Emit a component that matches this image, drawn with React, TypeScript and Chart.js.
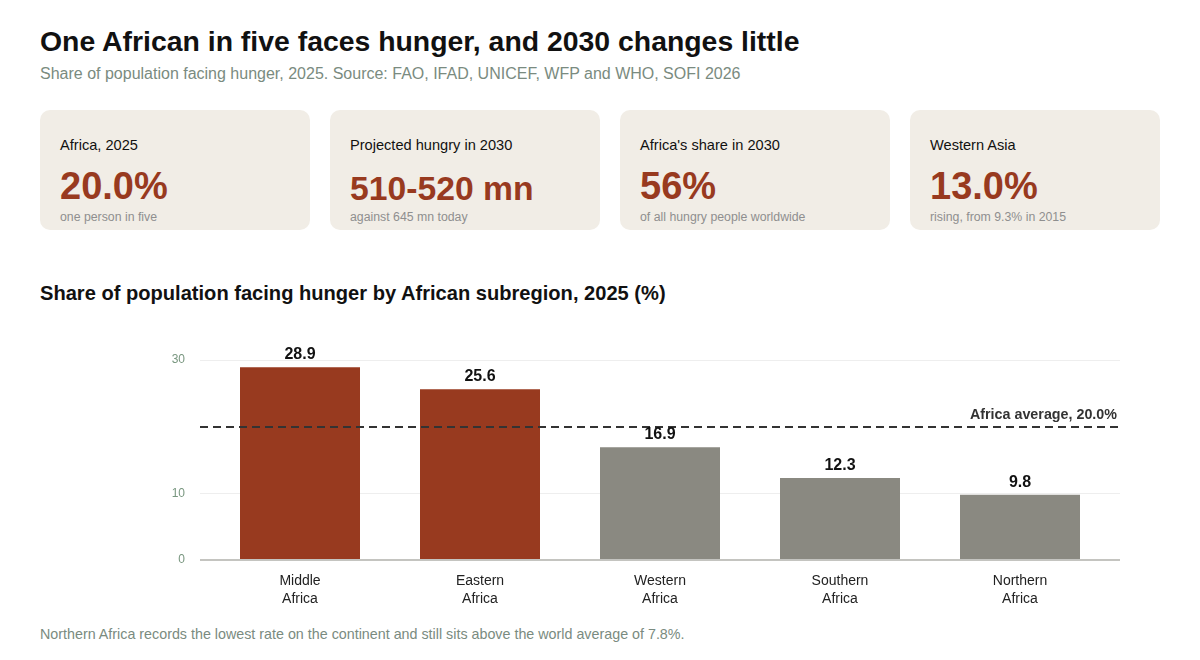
import React, { useEffect, useRef } from "react";
import { Chart, registerables } from "chart.js";

Chart.register(...registerables);

const categories: string[][] = [
  ["Middle", "Africa"],
  ["Eastern", "Africa"],
  ["Western", "Africa"],
  ["Southern", "Africa"],
  ["Northern", "Africa"],
];
const values: number[] = [28.9, 25.6, 16.9, 12.3, 9.8];
const highlighted: boolean[] = [true, true, false, false, false];
const yTicks: number[] = [0, 10, 30];
const africaAverage = 20.0;

const kpiLabels = ["Africa, 2025", "Projected hungry in 2030", "Africa's share in 2030", "Western Asia"];
const kpiValues = ["20.0%", "510-520 mn", "56%", "13.0%"];
const kpiNotes = ["one person in five", "against 645 mn today", "of all hungry people worldwide", "rising, from 9.3% in 2015"];

const RED = "#983a1f";
const GREY = "#8a8981";
const FONT = "'Liberation Sans', Arial, Helvetica, sans-serif";

const overlayPlugin = {
  id: "overlay",
  beforeDatasetsDraw(chart: any) {
    const { ctx, chartArea, scales } = chart;
    const y = scales.y;
    const l = chartArea.left - 10;
    const r = chartArea.right + 10;
    ctx.save();
    yTicks.forEach((v) => {
      if (v === 0) return;
      const py = Math.round(y.getPixelForValue(v)) + 0.5;
      ctx.strokeStyle = "#eeeeee";
      ctx.lineWidth = 1;
      ctx.beginPath();
      ctx.moveTo(l, py);
      ctx.lineTo(r, py);
      ctx.stroke();
    });
    ctx.restore();
  },
  afterDatasetsDraw(chart: any) {
    const { ctx, chartArea, scales } = chart;
    const y = scales.y;
    const l = chartArea.left - 10;
    const r = chartArea.right + 10;
    ctx.save();
    // baseline
    const by = y.getPixelForValue(0);
    ctx.strokeStyle = "#c4c4c0";
    ctx.lineWidth = 2;
    ctx.beginPath();
    ctx.moveTo(l, by);
    ctx.lineTo(r, by);
    ctx.stroke();
    // average line
    const ay = Math.round(y.getPixelForValue(africaAverage));
    ctx.strokeStyle = "#333333";
    ctx.lineWidth = 2;
    ctx.setLineDash([8, 5]);
    ctx.beginPath();
    ctx.moveTo(l, ay);
    ctx.lineTo(r, ay);
    ctx.stroke();
    ctx.setLineDash([]);
    ctx.fillStyle = "#333333";
    ctx.font = `bold 14.3px ${FONT}`;
    ctx.textAlign = "right";
    ctx.textBaseline = "alphabetic";
    ctx.fillText(`Africa average, ${africaAverage.toFixed(1)}%`, r - 3, ay - 8);
    // value labels
    const meta = chart.getDatasetMeta(0);
    ctx.fillStyle = "#111111";
    ctx.font = `bold 16px ${FONT}`;
    ctx.textAlign = "center";
    meta.data.forEach((bar: any, i: number) => {
      ctx.fillText(values[i].toFixed(1), bar.x, bar.y - 8);
    });
    ctx.restore();
  },
};

function BarChart() {
  const ref = useRef<HTMLCanvasElement | null>(null);
  useEffect(() => {
    if (!ref.current) return;
    const chart = new Chart(ref.current, {
      type: "bar",
      data: {
        labels: categories,
        datasets: [
          {
            data: values,
            backgroundColor: highlighted.map((h) => (h ? RED : GREY)),
            categoryPercentage: 1,
            barPercentage: 120 / 180,
          },
        ],
      },
      options: {
        responsive: false,
        animation: false,
        devicePixelRatio: 1,
        layout: { padding: { left: 0, right: 90, top: 40, bottom: 0 } },
        plugins: { legend: { display: false }, tooltip: { enabled: false } },
        scales: {
          x: {
            grid: { display: false, drawTicks: false },
            border: { display: false },
            ticks: {
              color: "#222222",
              font: { family: FONT, size: 14, lineHeight: 1.3 },
              padding: 12,
              maxRotation: 0,
              autoSkip: false,
            },
            afterFit: (s: any) => {
              s.height = 60;
            },
          },
          y: {
            min: 0,
            max: 30,
            grid: { display: false, drawTicks: false },
            border: { display: false },
            ticks: {
              color: "#78967f",
              font: { family: FONT, size: 12 },
              padding: 25,
            },
            afterBuildTicks: (s: any) => {
              s.ticks = yTicks.map((v) => ({ value: v }));
            },
            afterFit: (s: any) => {
              s.width = 210;
            },
          },
        },
      },
      plugins: [overlayPlugin],
    });
    return () => chart.destroy();
  }, []);
  return (
    <canvas
      ref={ref}
      width={1200}
      height={300}
      style={{ position: "absolute", left: 0, top: 320, width: 1200, height: 300 }}
    />
  );
}

export default function App() {
  const cardLefts = [40, 330, 620, 910];
  const cardWidths = [270, 270, 270, 250];
  const valueSizes = [38, 33.7, 38, 38];
  return (
    <div
      style={{
        position: "absolute",
        left: 0,
        top: 0,
        width: 1200,
        height: 660,
        background: "#ffffff",
        fontFamily: FONT,
        overflow: "hidden",
      }}
    >
      <div style={{ position: "absolute", left: 40, top: 25, fontSize: 28.4, fontWeight: "bold", color: "#111", whiteSpace: "nowrap" }}>
        One African in five faces hunger, and 2030 changes little
      </div>
      <div style={{ position: "absolute", left: 40, top: 65, fontSize: 16, color: "#7a8b80", whiteSpace: "nowrap" }}>
        Share of population facing hunger, 2025. Source: FAO, IFAD, UNICEF, WFP and WHO, SOFI 2026
      </div>
      {kpiLabels.map((lab, i) => (
        <div
          key={i}
          style={{
            position: "absolute",
            left: cardLefts[i],
            top: 110,
            width: cardWidths[i],
            height: 120,
            background: "#f1ede6",
            borderRadius: 10,
          }}
        >
          <div style={{ position: "absolute", left: 20, top: 27, fontSize: 14.6, color: "#111", whiteSpace: "nowrap" }}>{lab}</div>
          <div
            style={{
              position: "absolute",
              left: 20,
              top: 89.3 - 0.905 * valueSizes[i],
              fontSize: valueSizes[i],
              lineHeight: "normal",
              fontWeight: "bold",
              color: RED,
              whiteSpace: "nowrap",
            }}
          >
            {kpiValues[i]}
          </div>
          <div style={{ position: "absolute", left: 20, top: 100, fontSize: 12.3, color: "#8f8f8f", whiteSpace: "nowrap" }}>{kpiNotes[i]}</div>
        </div>
      ))}
      <div style={{ position: "absolute", left: 40, top: 282, fontSize: 20.1, fontWeight: "bold", color: "#111", whiteSpace: "nowrap" }}>
        Share of population facing hunger by African subregion, 2025 (%)
      </div>
      <BarChart />
      <div style={{ position: "absolute", left: 40, top: 626, fontSize: 14.3, color: "#7a8b80", whiteSpace: "nowrap" }}>
        Northern Africa records the lowest rate on the continent and still sits above the world average of 7.8%.
      </div>
    </div>
  );
}
